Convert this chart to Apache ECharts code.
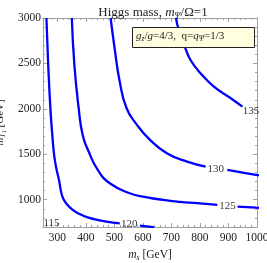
<!DOCTYPE html>
<html><head><meta charset="utf-8">
<script src="https://cdn.jsdelivr.net/npm/echarts@6/dist/echarts.min.js"></script>
<style>html,body{margin:0;padding:0;background:#fff}#c{width:267px;height:263px}</style>
</head><body><div id="c"></div>
<script>
// contour curves (m_s, m_T1); null marks the gap where the contour label sits
const curve120 = [[262,3000],[268,2505],[276,2000],[283,1700],[289,1493],[297,1340],[306,1218],[318,1034],[334,950],[354,888],[380,840],[413,800],[440,778],[472,759],[519,741],null,[590,715],[619,704],[640,697]];
const curve125 = [[351,3000],[360,2483],[375,2007],[389,1713],[410,1530],[442,1328],[484,1181],[554,1071],[610,1030],[672,998],[730,977],[790,962],[861,943],null,[932,924],[996,913],[1010,911]];
const curve130 = [[487,3000],[501,2667],[519,2299],[543,2007],[578,1830],[625,1658],[684,1512],[755,1419],[820,1364],null,[896,1328],[996,1273],[1010,1268]];
const curve135 = [[716,3000],[724,2890],[749,2667],[767,2538],[802,2392],[849,2244],[908,2117],[949,2024]];
const contourLabels = ['115','120','125','130','135'];
const labelPositions = [[280,740],[552,734],[897,934],[855,1339],[979,1980]];
const xMajorTicks = [300,400,500,600,700,800,900,1000];
const yMajorTicks = [1000,1500,2000,2500,3000];
const xMinorTicks = [];
for (let v = 260; v <= 1000; v += 20) xMinorTicks.push(v);
const yMinorTicks = [];
for (let v = 700; v <= 3000; v += 100) yMinorTicks.push(v);

const SERIF = 'Liberation Serif';
const BLUE = '#0000ff';
const FRAME = '#a0a0a0';

function segments(arr) {
  const out = []; let cur = [];
  arr.forEach(p => { if (p === null) { if (cur.length) out.push(cur); cur = []; } else cur.push(p); });
  if (cur.length) out.push(cur);
  return out;
}
const series = [];
[curve120, curve125, curve130, curve135].forEach(c => {
  segments(c).forEach(seg => series.push({
    type: 'line', data: seg, showSymbol: false, smooth: 0.5, clip: true,
    xAxisIndex: 0, yAxisIndex: 0, z: 2,
    lineStyle: { color: BLUE, width: 2.3 }, silent: true, animation: false
  }));
});
series.push({
  type: 'scatter', xAxisIndex: 0, yAxisIndex: 0, symbolSize: 0, clip: false, z: 5,
  data: contourLabels.map((t, i) => ({ name: t, value: labelPositions[i] })),
  label: { show: true, position: 'inside', formatter: p => p.name, fontFamily: SERIF, fontSize: 11, color: '#000' },
  animation: false
});

function xAx(pos, ticks, len, labels, extra) {
  return Object.assign({
    type: 'value', position: pos, min: 250, max: 1000, gridIndex: 0,
    axisLine: { show: true, onZero: false, lineStyle: { color: FRAME, width: 1 } },
    axisTick: { show: true, inside: true, length: len, customValues: ticks, lineStyle: { color: FRAME } },
    axisLabel: labels ? { show: true, customValues: ticks, formatter: v => String(v), fontFamily: SERIF, fontSize: 11.5, color: '#222', margin: 5 } : { show: false },
    splitLine: { show: false }
  }, extra || {});
}
function yAx(pos, ticks, len, labels, extra) {
  return Object.assign({
    type: 'value', position: pos, min: 700, max: 3000, gridIndex: 0,
    axisLine: { show: true, onZero: false, lineStyle: { color: FRAME, width: 1 } },
    axisTick: { show: true, inside: true, length: len, customValues: ticks, lineStyle: { color: FRAME } },
    axisLabel: labels ? { show: true, customValues: ticks, formatter: v => String(v), fontFamily: SERIF, fontSize: 11.5, color: '#222', margin: 2 } : { show: false },
    splitLine: { show: false }
  }, extra || {});
}

const chart = echarts.init(document.getElementById('c'), null, { renderer: 'canvas' });
chart.setOption({
  animation: false,
  backgroundColor: '#fff',
  title: {
    text: 'Higgs mass, {i|m}{sub|Ψ}/Ω=1', left: 148, top: 0, textAlign: 'center',
    textStyle: { fontFamily: SERIF, fontSize: 13, fontWeight: 'normal', color: '#222',
      rich: { i: { fontFamily: SERIF, fontStyle: 'italic', fontSize: 13, color: '#222' },
              sub: { fontFamily: SERIF, fontStyle: 'italic', fontSize: 8.5, color: '#222', verticalAlign: 'bottom', padding: [6,0,0,0] } } }
  },
  grid: { left: 43, right: 10, top: 18, bottom: 36, containLabel: false, outerBoundsMode: 'none' },
  xAxis: [
    xAx('bottom', xMajorTicks, 4, true, {
      name: '{i|m}{sub|s} [GeV]', nameLocation: 'middle', nameGap: 20,
      nameTextStyle: { fontFamily: SERIF, fontSize: 11.5, color: '#222',
        rich: { i: { fontFamily: SERIF, fontStyle: 'italic', fontSize: 11.5, color: '#222' },
                sub: { fontFamily: SERIF, fontStyle: 'italic', fontSize: 8, color: '#222', padding: [5,0,0,0] } } }
    }),
    xAx('bottom', xMinorTicks, 2, false),
    xAx('top', xMajorTicks, 4, false),
    xAx('top', xMinorTicks, 2, false)
  ],
  yAxis: [
    yAx('left', yMajorTicks, 4, true, {
      name: '{i|m}{sub|T}{sub2|1} [GeV]', nameLocation: 'middle', nameGap: 33, nameRotate: 90,
      nameTextStyle: { fontFamily: SERIF, fontSize: 11, color: '#222',
        rich: { i: { fontFamily: SERIF, fontStyle: 'italic', fontSize: 11, color: '#222' },
                sub: { fontFamily: SERIF, fontStyle: 'italic', fontSize: 8, color: '#222', padding: [5,0,0,0] },
                sub2: { fontFamily: SERIF, fontSize: 6, color: '#222', padding: [8,0,0,0] } } }
    }),
    yAx('left', yMinorTicks, 2, false),
    yAx('right', yMajorTicks, 4, false),
    yAx('right', yMinorTicks, 2, false)
  ],
  series: series,
  graphic: {
    elements: [
      { type: 'rect', left: 132, top: 27, z: 100, zlevel: 1, shape: { width: 122, height: 20 },
        style: { fill: '#ffffe0', stroke: '#222', lineWidth: 1 } },
      { type: 'text', left: 136, top: 31, z: 101, zlevel: 1,
        style: { text: '{i|g}{s|z}/{i|g}=4/3,  q={i|q}{s|Ψ}=1/3',
          font: '11px "Liberation Serif"', fill: '#222',
          rich: { i: { fontFamily: SERIF, fontStyle: 'italic', fontSize: 11, fill: '#222' },
                  s: { fontFamily: SERIF, fontStyle: 'italic', fontSize: 7.5, fill: '#222', padding: [5,0,0,0] } } } }
    ]
  }
});
</script></body></html>
